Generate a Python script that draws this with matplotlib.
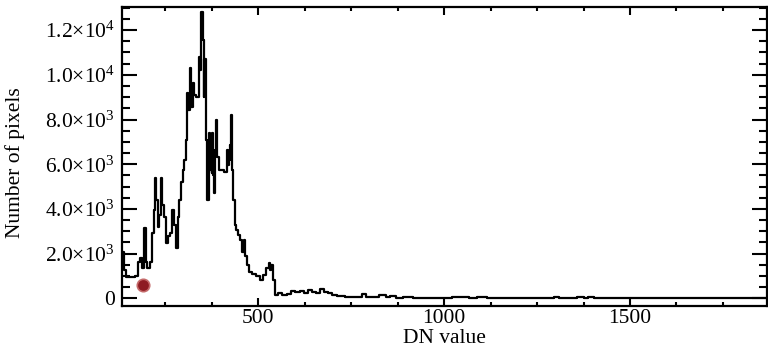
import matplotlib
matplotlib.use('Agg')
import matplotlib.pyplot as plt
from matplotlib.ticker import MultipleLocator, FixedLocator

plt.rcParams['font.family'] = ['Liberation Serif', 'DejaVu Serif']
plt.rcParams['mathtext.fontset'] = 'custom'
plt.rcParams['mathtext.rm'] = 'Liberation Serif'
plt.rcParams['mathtext.it'] = 'Liberation Serif:italic'

# histogram (DN value, pixel count), 10 per row
dn = [134, 142, 147, 161, 174, 180, 185, 190, 196, 198,
      204, 212, 217, 220, 225, 228, 231, 236, 241, 244,
      249, 255, 260, 266, 271, 276, 282, 284, 290, 295,
      300, 303, 308, 311, 314, 317, 319, 322, 325, 330,
      338, 343, 346, 349, 352, 354, 357, 360, 362, 365,
      368, 370, 373, 376, 378, 381, 384, 386, 389, 392,
      397, 405, 413, 419, 421, 424, 427, 429, 432, 435,
      438, 443, 448, 454, 459, 462, 467, 473, 478, 489,
      500, 510, 518, 526, 532, 534, 537, 542, 548, 558,
      572, 585, 593, 607, 617, 628, 639, 650, 660, 671,
      682, 693, 704, 720, 747, 774, 787, 795, 814, 836,
      849, 862, 881, 900, 935, 980, 1010, 1030, 1045, 1060,
      1075, 1100, 1130, 1200, 1290, 1300, 1320, 1345, 1370, 1380,
      1395, 1410, 1430, 1550, 1700, 1868]
counts = [2070, 1265, 950, 950, 1000, 1620, 1800, 1350, 3140, 1620,
          1350, 1620, 2920, 3950, 5380, 4390, 3190, 3720, 5380, 4170,
          3630, 2470, 2780, 2920, 3950, 3280, 2250, 3630, 4390, 5200,
          5740, 6180, 7080, 9170, 8420, 10290, 9310, 8550, 9620, 9090,
          9000, 10790, 10200, 12800, 11550, 9000, 10700, 7080, 5290, 4390,
          6630, 7390, 5740, 5600, 7390, 5510, 4710, 6630, 7970, 6320,
          5740, 5740, 5650, 6630, 5960, 6180, 6850, 8190, 5740, 4390,
          3280, 3050, 2830, 2610, 2070, 2610, 1890, 1490, 1180, 1090,
          1000, 820, 1040, 1350, 1580, 1270, 1490, 820, 150, 240,
          150, 190, 330, 280, 330, 240, 370, 280, 240, 415,
          280, 240, 150, 100, 60, 60, 190, 60, 60, 125,
          60, 100, 35, 40, 30, 20, 30, 70, 40, 80,
          30, 60, 25, 20, 20, 70, 25, 20, 70, 30,
          70, 20, 15, 15, 15, 15]

marker_dn = [190]
marker_count = [595]

y_ticks = [0, 2000, 4000, 6000, 8000, 10000, 12000]
y_labels = ['0', r'$2.0{\times}10^{3}$', r'$4.0{\times}10^{3}$',
            r'$6.0{\times}10^{3}$', r'$8.0{\times}10^{3}$',
            r'$1.0{\times}10^{4}$', r'$1.2{\times}10^{4}$']
x_ticks = [500, 1000, 1500]

fig = plt.figure(figsize=(7.68, 3.6), dpi=100)
ax = fig.add_axes([0.1585, 0.15, 0.840, 0.8306])

ax.plot(dn, counts, color='black', lw=1.6, drawstyle='steps-mid')
ax.scatter(marker_dn, marker_count, s=80, color='#8e1b22', edgecolor='#c46a6a',
           linewidth=1.2, zorder=5)

ax.set_xlim(133, 1868)
ax.set_ylim(-345, 13035)

ax.xaxis.set_major_locator(FixedLocator(x_ticks))
ax.xaxis.set_minor_locator(MultipleLocator(125))
ax.set_yticks(y_ticks)
ax.set_yticklabels(y_labels)
ax.yaxis.set_minor_locator(MultipleLocator(500))

ax.tick_params(which='both', direction='in', top=True, right=True,
               labelsize=15.5, width=1.5, colors='black')
ax.tick_params(axis='y', which='major', length=11, pad=5)
ax.tick_params(axis='y', which='minor', length=5.5)
ax.tick_params(axis='x', which='major', length=6, pad=2)
ax.tick_params(axis='x', which='minor', length=3)
for s in ax.spines.values():
    s.set_linewidth(1.6)

ax.set_xlabel('DN value', fontsize=15.5, labelpad=1)
ax.set_ylabel('Number of pixels', fontsize=15.5)
ax.yaxis.set_label_coords(-0.150, 0.48)

fig.savefig('out.png', dpi=100)
